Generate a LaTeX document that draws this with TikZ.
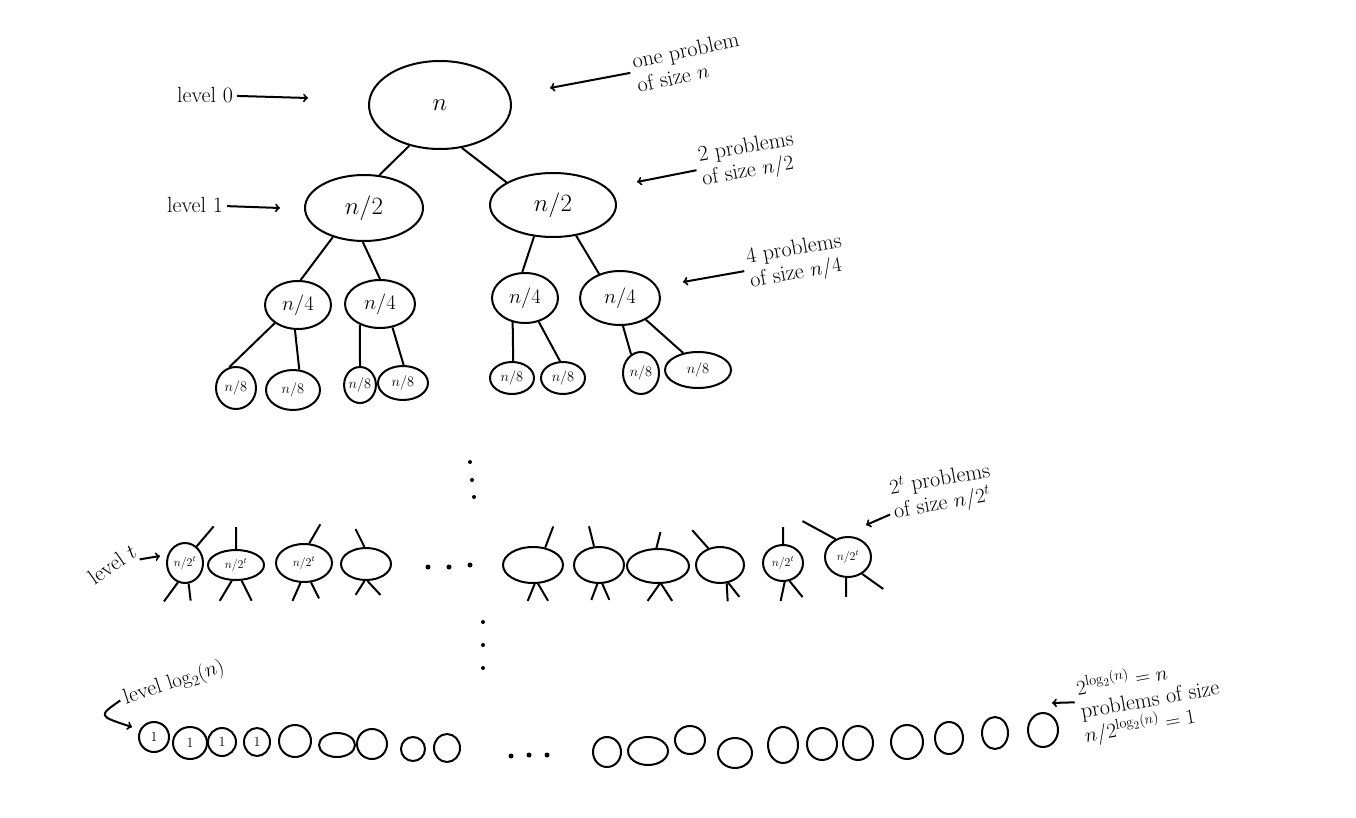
\documentclass[tikz,border=0pt]{standalone}
\usepackage{amsmath}
\usetikzlibrary{shapes.geometric,positioning}

\begin{document}
\begin{tikzpicture}[x=1pt,y=-1pt,line width=2pt,
		sub/.style={ellipse,draw,inner sep=0pt},
		note/.style={align=left,font=\fontsize{22}{24}\selectfont},
		dot/.style={fill,circle,inner sep=0pt,minimum size=5pt}]
\useasboundingbox (0,0) rectangle (1356,818);

% level 0 and level 1
\node[sub,minimum width=142,minimum height=88,font=\fontsize{34}{34}\selectfont] (r) at (440,105) {$n$};
\node[sub,minimum width=118,minimum height=66,font=\fontsize{28}{28}\selectfont] (l1) at (364,208) {$n/2$};
\node[sub,minimum width=126,minimum height=64,font=\fontsize{28}{28}\selectfont] (r1) at (553,205) {$n/2$};
\draw (r.233) -- (l1.65) (r.297) -- (r1.154);

% level 2
\node[sub,minimum width=66,minimum height=48,font=\fontsize{21}{21}\selectfont] (a) at (298,305) {$n/4$};
\node[sub,minimum width=70,minimum height=48,font=\fontsize{21}{21}\selectfont] (b) at (380,304) {$n/4$};
\node[sub,minimum width=66,minimum height=50,font=\fontsize{21}{21}\selectfont] (c) at (525,298) {$n/4$};
\node[sub,minimum width=80,minimum height=54,font=\fontsize{21}{21}\selectfont] (d) at (620,298) {$n/4$};
\draw (l1.223) -- (a.84) (l1.268) -- (b.90) (r1.239) -- (c.96) (r1.307) -- (d.131);

% level 3
\foreach \n/\x/\y/\w/\h in {e1/236/388/40/42, e2/293/390/54/40, e3/360/385/28/36, e4/403/383/50/34,
		e5/512/378/44/32, e6/563/378/44/32, e7/641/373/36/42, e8/698/370/66/36}
	\node[sub,minimum width=\w,minimum height=\h,font=\fontsize{14}{14}\selectfont] (\n) at (\x,\y) {$n/8$};
\draw (a.218) -- (e1.108) (a.263) -- (e2.73) (b.226) -- (e3.90) (b.298) -- (e4.88);
\draw (c.243) -- (e5.86) (c.300) -- (e6.100) (d.276) -- (e7.118) (d.320) -- (e8.131);

\foreach \p in {(470,462),(472,480),(474,497)} \node[dot,minimum size=4pt] at \p {};

% level t
\begin{scope}[font=\fontsize{12}{12}\selectfont]
\node[sub,minimum width=36,minimum height=40] (t1) at (185,563) {$n/2^t$};
\node[sub,minimum width=56,minimum height=30] (t2) at (236,565) {$n/2^t$};
\node[sub,minimum width=56,minimum height=38] (t3) at (304,563) {$n/2^t$};
\node[sub,minimum width=50,minimum height=32] (t4) at (366,564) {};
\node[sub,minimum width=60,minimum height=36] (t5) at (533,565) {};
\node[sub,minimum width=50,minimum height=36] (t6) at (599,565) {};
\node[sub,minimum width=62,minimum height=34] (t7) at (658,566) {};
\node[sub,minimum width=48,minimum height=36] (t8) at (720,565) {};
\node[sub,minimum width=40,minimum height=36] (t9) at (783,563) {$n/2^t$};
\node[sub,minimum width=46,minimum height=40] (t10) at (848,557) {$n/2^t$};
\end{scope}
\draw (t1.55) -- ++(17,-20) (t1.250) -- ++(-14,19) (t1.280) -- ++(2,17);
\draw (t2.90) -- ++(0,-22) (t2.255) -- ++(-12,20) (t2.290) -- ++(10,20);
\draw (t3.75) -- ++(11,-19) (t3.260) -- ++(-8,18) (t3.290) -- ++(8,16);
\draw (t4.95) -- ++(-9,-18) (t4.265) -- ++(-9,14) (t4.275) -- ++(13,14);
\draw (t5.55) -- ++(8,-21) (t5.275) -- ++(-7,17) (t5.285) -- ++(10,17);
\draw (t6.105) -- ++(-5,-20) (t6.265) -- ++(-6,16) (t6.280) -- ++(7,16);
\draw (t7.95) -- ++(4,-16) (t7.275) -- ++(-12,17) (t7.280) -- ++(11,17);
\draw (t8.125) -- ++(-16,-18) (t8.290) -- ++(1,18) (t8.295) -- ++(11,14);
\draw (t9.90) -- ++(0,-17) (t9.275) -- ++(-4,19) (t9.290) -- ++(13,16);
\draw (t10.125) -- ++(-33,-18) (t10.265) -- ++(0,19) (t10.310) -- ++(21,15);
\foreach \p in {(428,567),(449,567),(470,565)} \node[dot] at \p {};

\foreach \p in {(483,622),(483,645),(483,668)} \node[dot,minimum size=4pt] at \p {};

% level log2(n)
\foreach \x/\y/\w/\h/\t [count=\i] in {154/737/30/30/1, 190/743/34/32/1, 222/742/28/28/1, 257/742/26/28/1,
		295/741/32/32/, 337/745/36/24/, 372/744/30/30/, 413/749/24/24/, 447/748/26/28/,
		607/752/28/30/, 648/751/40/28/, 690/740/30/28/, 735/753/34/30/, 783/745/30/36/,
		822/744/30/32/, 858/743/30/34/, 907/742/32/34/, 949/738/28/32/, 995/733/26/32/, 1043/730/30/34/}
	\node[sub,minimum width=\w,minimum height=\h,font=\fontsize{14}{14}\selectfont] (b\i) at (\x,\y) {\t};
\foreach \p in {(511,756),(529,755),(547,755)} \node[dot] at \p {};

% notes
\node[note] (lv0) at (205,95) {level 0};
\coordinate (lv0tip) at (308,98);
\draw[->] (lv0) -- (lv0tip);
\node[note] (lv1) at (195,205) {level 1};
\coordinate (lv1tip) at (280,208);
\draw[->] (lv1) -- (lv1tip);
\node[note,rotate=35] (lvt) at (112,564) {level $t$};
\coordinate (lvttip) at (160,556);
\draw[->] (lvt) -- (lvttip);
\node[note,rotate=18] (lvb) at (174,683) {level $\log_2(n)$};
\coordinate (lvbtip) at (132,727);
\draw[->] (lvb.west) .. controls (98,716) .. (lvbtip);

\node[note,rotate=12] (p0) at (688,62) {one problem\\of size $n$};
\coordinate (p0tip) at (550,88);
\draw[->] (p0) -- (p0tip);
\node[note,rotate=10] (p1) at (748,160) {2 problems\\of size $n/2$};
\coordinate (p1tip) at (637,182);
\draw[->] (p1) -- (p1tip);
\node[note,rotate=10] (p2) at (796,262) {4 problems\\of size $n/4$};
\coordinate (p2tip) at (683,282);
\draw[->] (p2) -- (p2tip);
\node[note,rotate=10] (pt) at (942,492) {$2^t$ problems\\of size $n/2^t$};
\coordinate (pttip) at (866,525);
\draw[->] (pt) -- (pttip);
\node[note,rotate=10] (pb) at (1150,700) {$2^{\log_2(n)}=n$\\problems of size\\$n/2^{\log_2(n)}=1$};
\coordinate (pbtip) at (1052,703);
\draw[->] (pb) -- (pbtip);
\end{tikzpicture}
\end{document}
